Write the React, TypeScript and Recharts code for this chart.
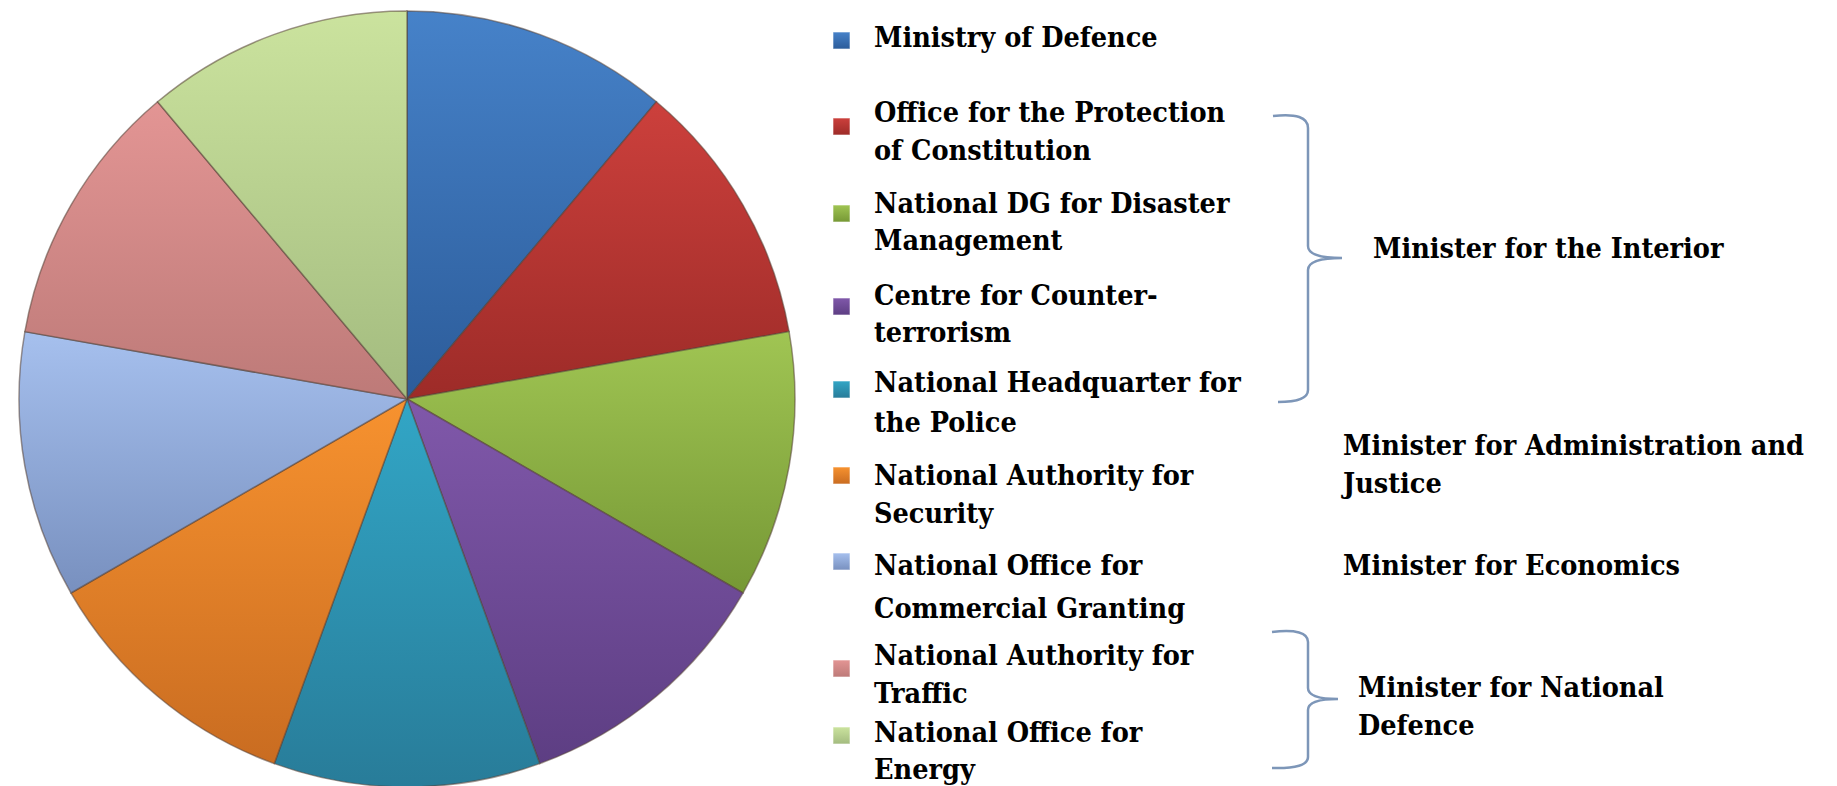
import React from "react";
import { PieChart, Pie, Cell } from "recharts";

const categories = [
  "Ministry of Defence",
  "Office for the Protection of Constitution",
  "National DG for Disaster Management",
  "Centre for Counter-terrorism",
  "National Headquarter for the Police",
  "National Authority for Security",
  "National Office for Commercial Granting",
  "National Authority for Traffic",
  "National Office for Energy",
];

// all nine slices are the same size in the picture
const shares = [1, 1, 1, 1, 1, 1, 1, 1, 1];

const legendLines = [
  ["Ministry of Defence"],
  ["Office for the Protection", "of Constitution"],
  ["National DG for Disaster", "Management"],
  ["Centre for Counter-", "terrorism"],
  ["National Headquarter for", "the Police"],
  ["National Authority for", "Security"],
  ["National Office for", "Commercial Granting"],
  ["National Authority for", "Traffic"],
  ["National Office for", "Energy"],
];

const groupLabels = [
  ["Minister for the Interior"],
  ["Minister for Administration and", "Justice"],
  ["Minister for Economics"],
  ["Minister for National", "Defence"],
];

// top / bottom colour of each slice gradient
const sliceColors = [
  ["#4682c9", "#2c5c9a"],
  ["#cc403c", "#9d2b28"],
  ["#a0c553", "#769835"],
  ["#8058aa", "#5d3e83"],
  ["#32a6c6", "#287c99"],
  ["#f7922f", "#c96c21"],
  ["#a6c0ee", "#7890bf"],
  ["#e39594", "#bd7a78"],
  ["#cbe39e", "#a3bb7f"],
];

const data = categories.map((name, i) => ({ name, value: shares[i] }));

// layout of the hand-placed legend (marker top, baseline of first line, line gap)
const legendMarkerTop = [32, 118, 205, 298, 381, 467, 553, 660, 727];
const legendBaseline = [47, 122, 213, 305, 392, 485, 575, 665, 742];
const legendGap = [0, 37.5, 37, 37, 40, 38, 43, 38, 37];

const groupX = [1373, 1343, 1343, 1358];
const groupBaseline = [258, 455, 575, 697];

const FONT = '"DejaVu Serif Condensed", "Liberation Serif", serif';
const FONT_SIZE = 28.5;

function Overlay() {
  return (
    <svg width={1837} height={786} style={{ position: "absolute", left: 0, top: 0 }}>
      <defs>
        {sliceColors.map((c, i) => (
          <linearGradient key={i} id={`mk-${i}`} x1="0" y1="0" x2="0" y2="1">
            <stop offset="0%" stopColor={c[0]} />
            <stop offset="100%" stopColor={c[1]} />
          </linearGradient>
        ))}
      </defs>
      {legendLines.map((lines, i) => (
        <g key={i}>
          <rect
            x={833}
            y={legendMarkerTop[i]}
            width={17}
            height={17}
            fill={`url(#mk-${i})`}
            stroke="rgba(255,255,255,0.6)"
            strokeWidth={1}
          />
          {lines.map((t, j) => (
            <text
              key={j}
              x={874}
              y={legendBaseline[i] + j * legendGap[i]}
              fontFamily={FONT}
              fontWeight={700}
              fontSize={FONT_SIZE}
              fill="#000"
            >
              {t}
            </text>
          ))}
        </g>
      ))}
      <path
        d="M1273 116 Q1308 112 1308 128 L1308 246 Q1308 258 1342 258 Q1308 258 1308 270 L1308 390 Q1308 402 1278 402"
        fill="none"
        stroke="#7d96b8"
        strokeWidth={2.5}
      />
      <path
        d="M1272 632 Q1308 628 1308 642 L1308 688 Q1308 699 1338 699 Q1308 699 1308 710 L1308 757 Q1308 769 1272 768"
        fill="none"
        stroke="#7d96b8"
        strokeWidth={2.5}
      />
      {groupLabels.map((lines, i) =>
        lines.map((t, j) => (
          <text
            key={`${i}-${j}`}
            x={groupX[i]}
            y={groupBaseline[i] + j * 38}
            fontFamily={FONT}
            fontWeight={700}
            fontSize={FONT_SIZE}
            fill="#000"
          >
            {t}
          </text>
        ))
      )}
    </svg>
  );
}

export default function App() {
  return (
    <div
      style={{
        position: "fixed",
        left: 0,
        top: 0,
        width: 1837,
        height: 786,
        background: "#fff",
        overflow: "hidden",
      }}
    >
      <PieChart width={1837} height={786} margin={{ top: 0, right: 0, bottom: 0, left: 0 }}>
        <defs>
          {sliceColors.map((c, i) => (
            <linearGradient key={i} id={`slice-${i}`} x1="0" y1="0" x2="0" y2="1">
              <stop offset="0%" stopColor={c[0]} />
              <stop offset="100%" stopColor={c[1]} />
            </linearGradient>
          ))}
        </defs>
        <Pie
          data={data}
          dataKey="value"
          nameKey="name"
          cx={407}
          cy={399}
          outerRadius={388}
          startAngle={90}
          endAngle={-270}
          stroke="rgba(85,65,55,0.55)"
          strokeWidth={1.5}
          isAnimationActive={false}
        >
          {data.map((d, i) => (
            <Cell key={d.name} fill={`url(#slice-${i})`} />
          ))}
        </Pie>
      </PieChart>
      <Overlay />
    </div>
  );
}
